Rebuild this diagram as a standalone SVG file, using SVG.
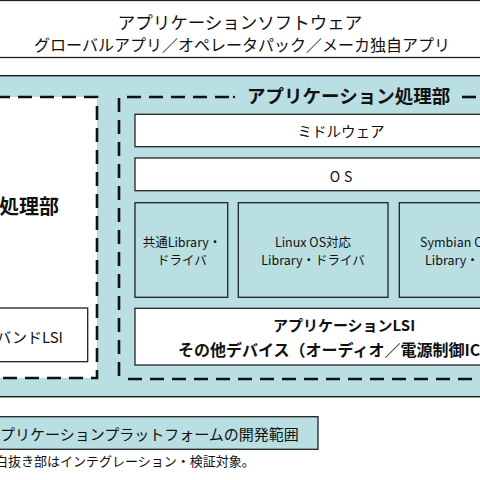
<svg xmlns="http://www.w3.org/2000/svg" width="480" height="480" viewBox="0 0 480 480">
<style>
text{font-family:"Noto Sans CJK JP","Liberation Sans",sans-serif;fill:#111}
.box{stroke:#222;stroke-width:1.3}
.w{fill:#fff}
.t{fill:#b9dfe2}
.dash{fill:none;stroke:#111;stroke-width:2.6;stroke-dasharray:14 8}
.lib{font-size:12.5px;text-anchor:middle}
</style>
<rect width="480" height="480" fill="#fff"/>
<g id="app-software">
<rect x="-5" y="0.5" width="490" height="57" class="box w"/>
<text x="240" y="29" font-size="17.5" text-anchor="middle">アプリケーションソフトウェア</text>
<text x="242" y="51" font-size="16" text-anchor="middle">グローバルアプリ／オペレータパック／メーカ独自アプリ</text>
</g>
<g id="platform-band">
<rect x="-5" y="75.7" width="490" height="321" class="t" stroke="#222" stroke-width="1.5"/>
</g>
<g id="baseband">
<rect x="-5" y="97" width="102" height="281" class="w"/>
<path d="M-4 97H97V378H-4" class="dash"/>
<text x="59" y="214" font-size="20" font-weight="bold" text-anchor="end">処理部</text>
<g id="baseband-lsi">
<rect x="-5" y="308" width="92.7" height="53.7" class="box w"/>
<text x="63" y="343" font-size="15" text-anchor="end">バンドLSI</text>
</g>
</g>
<g id="app-processor">
<path d="M119 98V379M127 97H233M128 379H480" class="dash"/>
<path d="M462 97H480" class="dash"/>
<circle cx="234" cy="97" r="1.2" fill="#111"/>
<text x="247" y="103" font-size="18.5" font-weight="bold">アプリケーション処理部</text>
</g>
<g id="middleware">
<rect x="135" y="114.3" width="400" height="32.4" class="box w"/>
<text x="341" y="137" font-size="14.5" text-anchor="middle">ミドルウェア</text>
</g>
<g id="os">
<rect x="135" y="158" width="400" height="32.7" class="box w"/>
<text x="343" y="182" font-size="14" text-anchor="middle" letter-spacing="4">OS</text>
</g>
<g id="common-lib">
<rect x="135" y="202.7" width="92.7" height="94.6" class="box t"/>
<text x="182" y="247" class="lib">共通Library・</text>
<text x="182" y="265" class="lib">ドライバ</text>
</g>
<g id="linux-lib">
<rect x="238.3" y="202.7" width="149.7" height="94.6" class="box t"/>
<text x="313" y="247" class="lib">Linux OS対応</text>
<text x="313" y="265" class="lib">Library・ドライバ</text>
</g>
<g id="symbian-lib">
<rect x="399.3" y="202.7" width="150" height="94.6" class="box t"/>
<text x="420" y="247" font-size="12.5">Symbian OS対応</text>
<text x="425" y="265" font-size="12.5">Library・ドライバ</text>
</g>
<g id="app-lsi">
<rect x="135" y="308.3" width="400" height="56.7" class="box w"/>
<text x="344" y="331" font-size="15" font-weight="bold" text-anchor="middle">アプリケーションLSI</text>
<text x="178" y="356" font-size="16" font-weight="bold">その他デバイス（オーディオ／電源制御IC）</text>
</g>
<g id="legend">
<rect x="-5" y="416.7" width="323" height="32.6" class="box t"/>
<text x="-15" y="440" font-size="15">アプリケーションプラットフォームの開発範囲</text>
<text x="-5" y="466" font-size="13">白抜き部はインテグレーション・検証対象。</text>
</g>
<g id="connectors"></g>
</svg>
